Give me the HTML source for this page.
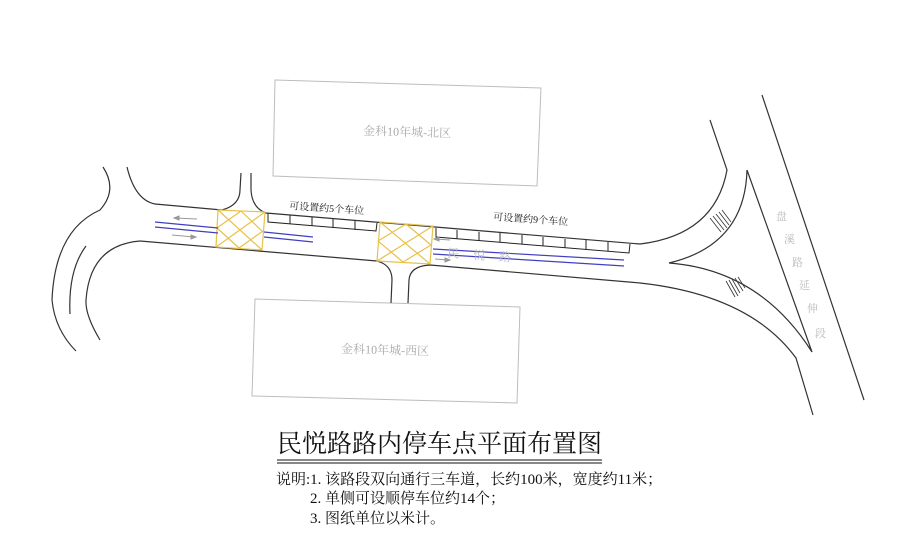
<!DOCTYPE html>
<html><head><meta charset="utf-8"><style>
html,body{margin:0;padding:0;background:#fff;}
svg{display:block;}
text{font-family:"Liberation Serif","Noto Serif CJK SC",serif;}
</style></head><body>
<svg width="916" height="537" viewBox="0 0 916 537" xmlns="http://www.w3.org/2000/svg">
<g fill="none" stroke="#bdbdbd" stroke-width="1">
<polygon points="275,80 541,88 537,186 273,176"/>
<polygon points="255,299 520,307 517,403 252,396"/>
</g>
<text x="407" y="136" font-size="12" fill="#aaa" text-anchor="middle" transform="rotate(1.5 407 136)">金科10年城-北区</text>
<text x="385" y="354" font-size="12" fill="#aaa" text-anchor="middle" transform="rotate(1.5 385 354)">金科10年城-西区</text>

<g fill="none" stroke="#333" stroke-width="1.2">
<path d="M155,204 L222,210 Q240,205 240,190 L241,173"/>
<path d="M251,173 L251,190 Q252,208 266,213 L640,244 Q715,235 727,170 L710,120"/>
<path d="M140,241 L377,261 Q392,265 392,280 L391,303"/>
<path d="M408,303 L409,280 Q410,266 430,265 L640,283 Q750,295 796,358 L813,415"/>
<path d="M155,204 Q135,200 127,167"/>
<path d="M103,167 Q118,190 100,210 Q55,230 52,300 Q55,330 76,351"/>
<path d="M140,241 Q90,245 86,300 Q85,315 100,340"/>
<path d="M86,246 Q68,270 70,314"/>
<path d="M747,170 Q745,245 669,263 Q760,270 812,352 L747,170"/>
<path d="M762,95 L864,400"/>
</g>
<g stroke="#333" stroke-width="0.8">
<line x1="710" y1="218" x2="721" y2="232"/><line x1="713" y1="216" x2="724" y2="230"/><line x1="716" y1="214" x2="727" y2="228"/><line x1="719" y1="212" x2="729" y2="225"/><line x1="722" y1="210" x2="731" y2="222"/>
<line x1="726" y1="281" x2="735" y2="297"/><line x1="729" y1="280" x2="738" y2="296"/><line x1="732" y1="279" x2="740" y2="293"/><line x1="735" y1="278" x2="743" y2="291"/><line x1="738" y1="277" x2="745" y2="288"/>
</g>
<g stroke="#e8c14a" stroke-width="1.2" fill="none">
<polygon points="218,210 265,212 262,250 216,247"/>
<line x1="218" y1="210" x2="262" y2="250"/><line x1="265" y1="212" x2="216" y2="247"/>
<line x1="241" y1="211" x2="262" y2="231"/><line x1="241" y1="211" x2="217" y2="228"/>
<line x1="217" y1="228" x2="239" y2="248"/><line x1="263" y1="231" x2="239" y2="248"/>
<polygon points="380,222 433,226 430,264 377,261"/>
<line x1="380" y1="222" x2="430" y2="264"/><line x1="433" y1="226" x2="377" y2="261"/>
<line x1="406" y1="224" x2="431" y2="245"/><line x1="406" y1="224" x2="378" y2="241"/>
<line x1="378" y1="241" x2="403" y2="262"/><line x1="431" y1="245" x2="403" y2="262"/>
</g>
<g stroke="#222" stroke-width="1" fill="none">
<path d="M268,213 L268,222 L376,231 L377,223"/>
<line x1="290" y1="215" x2="290" y2="224"/><line x1="312" y1="217" x2="312" y2="226"/><line x1="333" y1="219" x2="333" y2="228"/><line x1="355" y1="221" x2="355" y2="230"/>
<path d="M436,228 L436,237 L629,253 L630,244"/>
<line x1="457" y1="230" x2="457" y2="239"/><line x1="479" y1="232" x2="479" y2="241"/><line x1="500" y1="233" x2="500" y2="242"/><line x1="522" y1="235" x2="522" y2="244"/><line x1="543" y1="237" x2="543" y2="246"/><line x1="565" y1="239" x2="565" y2="248"/><line x1="586" y1="240" x2="586" y2="249"/><line x1="608" y1="242" x2="608" y2="251"/>
</g>
<g stroke="#4040c0" stroke-width="1.2">
<line x1="155" y1="222" x2="218" y2="228"/><line x1="155" y1="227" x2="218" y2="233"/>
<line x1="264" y1="232" x2="313" y2="237"/><line x1="264" y1="237" x2="313" y2="242"/>
<line x1="433" y1="249" x2="624" y2="260"/><line x1="433" y1="254" x2="624" y2="266"/>
</g>
<g stroke="#999" stroke-width="1" fill="#999">
<line x1="175" y1="218" x2="197" y2="219"/><path d="M174,218 l5,-2 l0,4z"/>
<line x1="172" y1="235" x2="194" y2="237"/><path d="M196,237 l-5,-2 l0,4z"/>
<line x1="435" y1="239" x2="450" y2="240"/><path d="M434,239 l5,-2 l0,4z"/>
<line x1="435" y1="259" x2="448" y2="260"/><path d="M450,260 l-5,-2 l0,4z"/>
</g>
<text x="447" y="257" font-size="12" fill="#bbb" letter-spacing="14" transform="rotate(4 447 257)">民悦路</text>
<g font-size="11" fill="#bbb">
<text x="776" y="220">盘</text><text x="784" y="243">溪</text><text x="792" y="266">路</text><text x="799" y="289">延</text><text x="807" y="312">伸</text><text x="815" y="337">段</text>
</g>
<text x="289" y="209" font-size="10" fill="#222" transform="rotate(4 289 209)">可设置约5个车位</text>
<text x="493" y="220" font-size="10" fill="#222" transform="rotate(4 493 220)">可设置约9个车位</text>
<text x="277" y="452" font-size="25" fill="#111" font-family="'Liberation Sans','Noto Sans CJK SC',sans-serif">民悦路路内停车点平面布置图</text>
<line x1="277" y1="460" x2="602" y2="460" stroke="#111" stroke-width="1"/>
<line x1="277" y1="463" x2="602" y2="463" stroke="#111" stroke-width="1"/>
<g font-size="15" fill="#111">
<text x="276" y="484">说明:1. 该路段双向通行三车道，长约100米，宽度约11米；</text>
<text x="310" y="503">2. 单侧可设顺停车位约14个；</text>
<text x="310" y="523">3. 图纸单位以米计。</text>
</g>
</svg>
</body></html>
